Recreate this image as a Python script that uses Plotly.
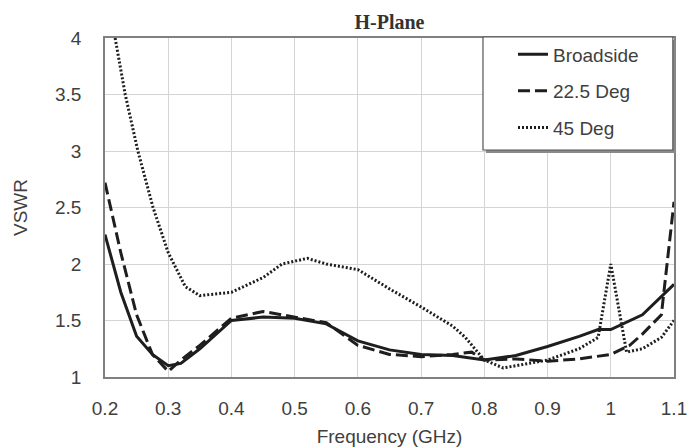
import plotly.graph_objects as go

# ---- data ----
freq_broad = [0.2, 0.225, 0.25, 0.275, 0.3, 0.32, 0.35, 0.4, 0.45, 0.5, 0.55, 0.6, 0.65, 0.7, 0.75, 0.8, 0.85, 0.9, 0.95, 0.98, 1.0, 1.05, 1.1]
vswr_broad = [2.26, 1.75, 1.36, 1.2, 1.1, 1.12, 1.25, 1.5, 1.53, 1.52, 1.47, 1.32, 1.24, 1.2, 1.19, 1.15, 1.19, 1.27, 1.36, 1.42, 1.42, 1.55, 1.82]

freq_22 = [0.2, 0.225, 0.25, 0.275, 0.3, 0.32, 0.35, 0.4, 0.45, 0.5, 0.55, 0.6, 0.65, 0.7, 0.75, 0.78, 0.8, 0.85, 0.9, 0.95, 1.0, 1.03, 1.05, 1.08, 1.1]
vswr_22 = [2.72, 2.1, 1.55, 1.2, 1.05, 1.15, 1.28, 1.52, 1.58, 1.53, 1.48, 1.28, 1.2, 1.18, 1.2, 1.22, 1.15, 1.16, 1.14, 1.16, 1.2, 1.28, 1.38, 1.55, 2.55]

freq_45 = [0.216, 0.232, 0.252, 0.276, 0.3, 0.327, 0.35, 0.4, 0.45, 0.48, 0.52, 0.55, 0.6, 0.65, 0.7, 0.75, 0.77, 0.8, 0.83, 0.85, 0.9, 0.95, 0.98, 1.0, 1.025, 1.05, 1.08, 1.1]
vswr_45 = [4.0, 3.5, 3.0, 2.5, 2.1, 1.8, 1.72, 1.75, 1.88, 2.0, 2.05, 2.0, 1.95, 1.78, 1.62, 1.45, 1.35, 1.15, 1.08, 1.1, 1.15, 1.25, 1.35, 2.0, 1.22, 1.25, 1.35, 1.5]

x_ticks = [0.2, 0.3, 0.4, 0.5, 0.6, 0.7, 0.8, 0.9, 1.0, 1.1]
x_labels = ["0.2", "0.3", "0.4", "0.5", "0.6", "0.7", "0.8", "0.9", "1", "1.1"]
y_ticks = [1, 1.5, 2, 2.5, 3, 3.5, 4]
y_labels = ["1", "1.5", "2", "2.5", "3", "3.5", "4"]

line_col = "#1e1e1e"
text_col = "#404040"
font_fam = "Liberation Sans, Arial, sans-serif"

fig = go.Figure()
fig.add_trace(go.Scatter(x=freq_broad, y=vswr_broad, mode="lines", name="Broadside",
                         legendgroup="a", line=dict(color=line_col, width=3)))
fig.add_trace(go.Scatter(x=freq_22, y=vswr_22, mode="lines", name="22.5 Deg",
                         legendgroup="b", line=dict(color=line_col, width=3, dash="12px,5px")))
fig.add_trace(go.Scatter(x=freq_45, y=vswr_45, mode="lines", name="45 Deg",
                         legendgroup="c", line=dict(color=line_col, width=3, dash="2px,2px")))

# legend frame with shadow
fig.add_shape(type="rect", xref="paper", yref="paper", x0=0.6695, x1=1.0033, y0=0.661, y1=0.994,
              line=dict(width=0), fillcolor="#8a8a8a", layer="above")
fig.add_shape(type="rect", xref="paper", yref="paper", x0=0.6643, x1=0.998, y0=0.6696, y1=1.003,
              line=dict(width=1.2, color="#555555"), fillcolor="white", layer="above")

fig.update_layout(
    width=689, height=447,
    margin=dict(l=105, r=15, t=38, b=70),
    paper_bgcolor="white", plot_bgcolor="white",
    font=dict(family=font_fam, size=19, color=text_col),
    title=dict(text="<b>H-Plane</b>", x=0.5, xref="paper", xanchor="center", y=0.95, yanchor="middle",
               font=dict(family="Liberation Serif, Times New Roman, serif", size=20, color="#333333")),
    showlegend=True,
    legend=dict(x=0.717, xanchor="left", y=1.008, yanchor="top", bgcolor="rgba(0,0,0,0)",
                borderwidth=0, font=dict(size=19, color=text_col), traceorder="grouped",
                tracegroupgap=9),
    xaxis=dict(range=[0.2, 1.1], tickvals=x_ticks, ticktext=x_labels, showgrid=True,
               gridcolor="#d4d4d4", gridwidth=1, showline=True, linecolor="#808080", linewidth=1.5,
               mirror=True, zeroline=False, ticks="", ticklabelstandoff=13, automargin=False,
               title=dict(text="Frequency (GHz)", standoff=13, font=dict(size=19, color=text_col))),
    yaxis=dict(range=[1, 4], tickvals=y_ticks, ticktext=y_labels, showgrid=True,
               gridcolor="#d4d4d4", gridwidth=1, showline=True, linecolor="#808080", linewidth=1.5,
               mirror=True, zeroline=False, ticks="", ticklabelstandoff=18, automargin=False,
               title=dict(text="VSWR", standoff=22, font=dict(size=19, color=text_col))),
)

fig.write_html("out.html")
